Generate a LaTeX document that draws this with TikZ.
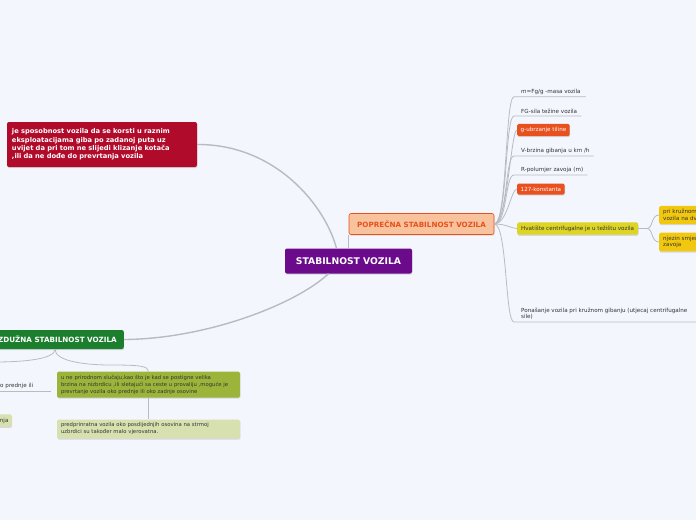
\documentclass[tikz,border=0pt]{standalone}
\usepackage{fontspec}
\setmainfont{DejaVu Sans}
\usetikzlibrary{positioning, calc, shadows}
\definecolor{mBack}{HTML}{F4F6FD}
\definecolor{mLine}{HTML}{B9BBC2}
\definecolor{mPurple}{HTML}{6B0A8A}
\definecolor{mPeach}{HTML}{F8C29C}
\definecolor{mOrange}{HTML}{E8501E}
\definecolor{mRed}{HTML}{B00B2B}
\definecolor{mGreen}{HTML}{1C7F2E}
\definecolor{mYellow}{HTML}{DDD424}
\definecolor{mGold}{HTML}{F2C80E}
\definecolor{mOlive}{HTML}{9AB53A}
\definecolor{mPale}{HTML}{D6E1AF}
\definecolor{mText}{HTML}{333333}

\tikzset{
  conn/.style={draw=mLine, line width=0.8pt},
  mainconn/.style={draw=mLine, line width=1.4pt},
  boxshadow/.style={drop shadow={shadow xshift=0.4pt, shadow yshift=-1.2pt, opacity=0.25}},
  central/.style={fill=mPurple, text=white, font=\bfseries\fontsize{9.2}{10}\selectfont,
    rounded corners=2pt, minimum width=127pt, minimum height=25pt, boxshadow},
  topic/.style={fill=mPeach, draw=mOrange, line width=0.6pt, text=mOrange,
    font=\bfseries\fontsize{7.2}{8}\selectfont, rounded corners=2pt,
    minimum width=145pt, minimum height=21pt, boxshadow},
  redtopic/.style={fill=mRed, text=white, font=\bfseries\fontsize{6.7}{8.3}\selectfont,
    rounded corners=2pt, minimum width=190pt, minimum height=45pt,
    text width=180pt, align=left, boxshadow},
  greentopic/.style={fill=mGreen, text=white, font=\bfseries\fontsize{7.2}{8}\selectfont,
    rounded corners=2pt, minimum height=19pt, inner xsep=7pt, boxshadow},
  leaf/.style={text=mText, font=\fontsize{5.6}{6.6}\selectfont, inner xsep=0pt,
    inner ysep=2.4pt, align=left, anchor=south west},
  obox/.style={fill=mOrange, text=white, font=\fontsize{5.6}{6.5}\selectfont,
    rounded corners=1.5pt, inner xsep=3.5pt, minimum height=10pt, anchor=west, boxshadow},
  ybox/.style={fill=mYellow, text=mText, font=\fontsize{5.6}{6.5}\selectfont,
    rounded corners=1.5pt, inner xsep=4pt, minimum height=11pt, anchor=west, boxshadow},
  gbox/.style={fill=mGold, text=mText, font=\fontsize{5.6}{6.8}\selectfont,
    rounded corners=1.5pt, inner xsep=4pt, minimum height=18pt, text width=60pt,
    align=left, anchor=west, boxshadow},
  olbox/.style={fill=mOlive, text=mText, font=\fontsize{5.3}{7}\selectfont,
    rounded corners=1.5pt, minimum width=183pt, minimum height=23pt,
    text width=175pt, align=left, boxshadow},
  plbox/.style={fill=mPale, text=mText, font=\fontsize{5.3}{7}\selectfont,
    rounded corners=1.5pt, minimum width=183pt, minimum height=18pt,
    text width=175pt, align=left, boxshadow}
}

\begin{document}
\begin{tikzpicture}[x=1pt, y=-1pt]
  \useasboundingbox (0,0) rectangle (696,520);
  \clip (0,0) rectangle (696,520);
  \fill[mBack] (0,0) rectangle (696,520);

  % main topics
  \node[central] (stab) at (348.5,261) {STABILNOST VOZILA};
  \node[topic] (pop) at (421.5,224) {POPREČNA STABILNOST VOZILA};
  \node[redtopic] (def) at (102,144.5) {je sposobnost vozila da se korsti u raznim\\eksploatacijama giba po zadanoj puta uz\\uvijet da pri tom ne slijedi klizanje kotača\\,ili da ne dođe do prevrtanja vozila};
  \node[greentopic, anchor=east] (uzd) at (124,339.5) {UZDUŽNA STABILNOST VOZILA};

  \draw[mainconn] (def.east) .. controls (275,144) and (325,205) .. ($(stab.north)+(-12,0)$);
  \draw[mainconn] ($(stab.south)+(-20,0)$) .. controls (295,305) and (205,339) .. (uzd.east);
  \draw[conn] (stab.north) -- (stab.north |- pop.south);

  % poprecna: leaves
  \node[leaf] (masa) at (521,96.8) {m=Fg/g -masa vozila};
  \node[leaf] (sila) at (521,116) {FG-sila težine vozila};
  \node[obox] (ubrz) at (517,130) {g-ubrzanje tiline};
  \node[leaf] (brz) at (521,156) {V-brzina gibanja u km /h};
  \node[leaf] (polu) at (521,175) {R-polumjer zavoja (m)};
  \node[obox] (konst) at (517,189) {127-konstanta};
  \node[ybox] (hvat) at (517,228.5) {Hvatište centrifugalne je u težištu vozila};
  \node[leaf] (pon) at (521,322) {Ponašanje vozila pri kružnom gibanju (utjecaj centrifugalne\\sile)};

  \foreach \n/\e in {masa/5, sila/4, brz/4, polu/4} {
    \draw[conn] (pop.east) .. controls +(13,0) and +(-9,0) .. ($(\n.south west)+(-7,0)$) -- ($(\n.south east)+(\e,0)$);
  }
  \draw[conn] (pop.east) .. controls +(13,0) and +(-9,0) .. ($(pon.south west)+(-7,0)$) -- (700,322);
  \foreach \n in {ubrz, konst, hvat} {
    \draw[conn] (pop.east) .. controls +(13,0) and +(-6,0) .. (\n.west);
  }

  % hvatiste: children
  \node[gbox] (kruz) at (659,215) {pri kružnom\\vozila na dv};
  \node[gbox] (smjer) at (659,242) {njezin smjer\\zavoja};
  \coordinate (hvatfork) at (647,228.5);
  \draw[conn] (hvat.east) -- (hvatfork);
  \draw[conn] (hvatfork) .. controls +(6,0) and +(-8,0) .. (kruz.west);
  \draw[conn] (hvatfork) .. controls +(6,0) and +(-8,0) .. (smjer.west);

  % uzduzna: children
  \coordinate (uzdfoot) at ($(uzd.south east)+(-69,0)$);
  \coordinate (uzdleft) at (-6,362);
  \node[olbox] (sluc) at (148.5,384.5) {u ne prirodnom slučaju,kao što je kad se postigne velika\\brzina na nizbrdicu ,ili sletajući sa ceste u provaliju ,moguće je\\prevrtanje vozila oko prednje ili oko zadnje osovine};
  \node[plbox] (pred) at (148.5,429) {predprinratna vozila oko posdijednjih osovina na strmoj\\uzbrdici su također malo vjerovatna.};
  \node[leaf] (prednje) at (-3,391) {ko prednje ili};
  \node[fill=mPale, text=mText, font=\fontsize{5.6}{6.5}\selectfont, rounded corners=1.5pt,
    minimum height=11pt, anchor=east, boxshadow] (nja) at (12,420.5) {nja};

  \draw[conn] (uzdfoot) .. controls +(0,12) and +(-25,0) .. (110,365) .. controls (140,365) and (148,366) .. (sluc.north);
  \draw[conn] (uzdfoot) .. controls +(0,10) and +(30,0) .. (uzdleft);
  \draw[conn] (sluc.south) -- (pred.north);
  \draw[conn] (prednje.south west) -- ++(54,0);
\end{tikzpicture}
\end{document}
